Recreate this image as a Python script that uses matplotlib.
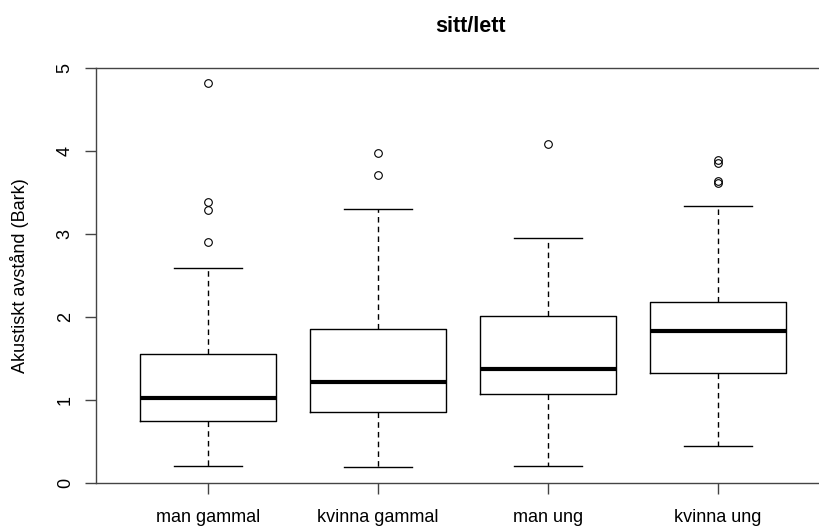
import matplotlib

matplotlib.use("Agg")
import matplotlib.pyplot as plt

plt.rcParams["font.family"] = ["Liberation Sans", "DejaVu Sans"]

groups = ["man gammal", "kvinna gammal", "man ung", "kvinna ung"]
whislo = [0.20, 0.19, 0.20, 0.44]
q1 = [0.75, 0.86, 1.07, 1.32]
med = [1.03, 1.22, 1.37, 1.83]
q3 = [1.55, 1.85, 2.01, 2.18]
whishi = [2.59, 3.30, 2.95, 3.34]
fliers = [
    [2.90, 3.29, 3.38, 4.82],
    [3.71, 3.98],
    [4.09],
    [3.62, 3.64, 3.86, 3.89],
]

stats = []
for i, name in enumerate(groups):
    stats.append(dict(label=name, whislo=whislo[i], q1=q1[i], med=med[i],
                      q3=q3[i], whishi=whishi[i], fliers=fliers[i]))

fig = plt.figure(figsize=(8.2, 5.26), dpi=100)
# plot region: left edge at x=96px, runs off the right edge like the original
ax = fig.add_axes([96 / 820, 1 - 483 / 526, 1 - 96 / 820, 415 / 526])

line_kw = dict(color="black", linewidth=1.0)
ax.bxp(
    stats,
    positions=[1, 2, 3, 4],
    widths=0.8,
    boxprops=line_kw,
    whiskerprops=dict(color="black", linewidth=1.0, linestyle=(0, (4, 3))),
    capprops=line_kw,
    medianprops=dict(color="black", linewidth=3.0, solid_capstyle="butt"),
    flierprops=dict(marker="o", markersize=5.5, markerfacecolor="none",
                    markeredgecolor="black", markeredgewidth=0.8),
    capwidths=0.4,
)

ax.set_xlim(1 - 112 / 170, 1 + 612 / 170)
ax.set_ylim(0, 5)
ax.set_yticks([0, 1, 2, 3, 4, 5])
ax.set_yticklabels(["0", "1", "2", "3", "4", "5"], rotation=90, va="center")
ax.set_xticks([1, 2, 3, 4])
ax.set_xticklabels(groups)

for side in ["left", "top", "bottom"]:
    ax.spines[side].set_color("#444444")
    ax.spines[side].set_linewidth(1.0)
ax.spines["right"].set_visible(False)

ax.tick_params(axis="both", direction="out", length=8, width=1.0,
               color="#444444", labelsize=13)
ax.tick_params(axis="x", pad=11)
ax.tick_params(axis="y", pad=8)

ax.set_ylabel("Akustiskt avstånd (Bark)", fontsize=13)
ax.yaxis.set_label_coords(-67 / 724, 0.5)

fig.text(470 / 820, 1 - 32 / 526, "sitt/lett", ha="center", va="baseline",
         fontsize=15.5, fontweight="bold")

fig.savefig("out.png", dpi=100)
